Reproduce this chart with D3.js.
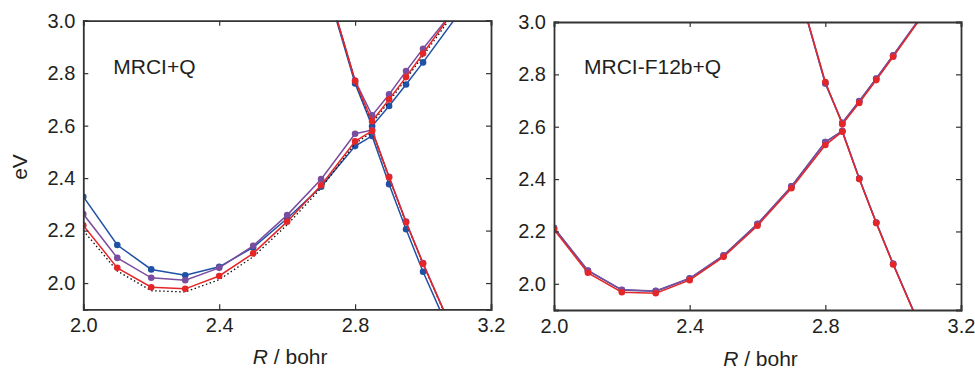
<!DOCTYPE html>
<html>
<head>
<meta charset="utf-8">
<script src="https://cdn.jsdelivr.net/npm/d3@7"></script>
<style>
body { margin: 0; background: #fff; }
text { font-family: "Liberation Sans", Arial, sans-serif; fill: #231f20; }
</style>
</head>
<body>
<script>
// bond lengths (bohr)
var rLower = [2.0, 2.1, 2.2, 2.3, 2.4, 2.5, 2.6, 2.7, 2.8, 2.85, 2.9, 2.95, 3.0, 3.1];
var rUpper = [2.7, 2.8, 2.85, 2.9, 2.95, 3.0, 3.1];

var xTicks = [2.0, 2.4, 2.8, 3.2];
var yTicks = [2.0, 2.2, 2.4, 2.6, 2.8, 3.0];

// MRCI+Q panel
var mrciBlueLow = [2.329, 2.145, 2.052, 2.030, 2.062, 2.136, 2.246, 2.367, 2.522, 2.561, 2.377, 2.205, 2.043, 1.751];
var mrciBlueUp = [3.20, 2.761, 2.598, 2.675, 2.757, 2.841, 3.018];
var mrciPurpleLow = [2.263, 2.096, 2.020, 2.011, 2.058, 2.142, 2.259, 2.396, 2.569, 2.583, 2.405, 2.234, 2.076, 1.781];
var mrciPurpleUp = [3.21, 2.772, 2.639, 2.719, 2.808, 2.893, 3.055];
var mrciRedLow = [2.220, 2.058, 1.984, 1.978, 2.027, 2.113, 2.234, 2.373, 2.540, 2.580, 2.403, 2.232, 2.074, 1.779];
var mrciRedUp = [3.21, 2.770, 2.617, 2.700, 2.785, 2.875, 3.055];
var mrciRefLow = [2.200, 2.046, 1.971, 1.966, 2.013, 2.100, 2.222, 2.362, 2.532, 2.575, 2.400, 2.230, 2.072, 1.777];
var mrciRefUp = [3.21, 2.768, 2.610, 2.692, 2.778, 2.866, 3.045];

// MRCI-F12b+Q panel
var f12BlueLow = [2.213, 2.050, 1.976, 1.972, 2.020, 2.108, 2.228, 2.372, 2.541, 2.583, 2.402, 2.234, 2.076, 1.776];
var f12BlueUp = [3.22, 2.765, 2.614, 2.697, 2.783, 2.872, 3.052];
var f12PurpleLow = [2.214, 2.051, 1.977, 1.973, 2.021, 2.109, 2.229, 2.372, 2.541, 2.584, 2.402, 2.234, 2.076, 1.776];
var f12PurpleUp = [3.22, 2.766, 2.615, 2.698, 2.784, 2.873, 3.053];
var f12RedLow = [2.207, 2.042, 1.968, 1.964, 2.014, 2.103, 2.222, 2.365, 2.530, 2.581, 2.400, 2.232, 2.074, 1.774];
var f12RedUp = [3.22, 2.771, 2.609, 2.691, 2.778, 2.867, 3.049];

var blue = "#1f52a5", purple = "#7a4e9e", red = "#e52629";

var panels = [
    {id: "a", label: "MRCI+Q", left: 83.3, right: 491, top: 20.7, bottom: 309.3,
     series: [
        {low: mrciBlueLow, up: mrciBlueUp, color: blue, dots: true},
        {low: mrciPurpleLow, up: mrciPurpleUp, color: purple, dots: true},
        {low: mrciRefLow, up: mrciRefUp, color: "#111", dots: false, dash: "1.5,2.5"},
        {low: mrciRedLow, up: mrciRedUp, color: red, dots: true}
     ]},
    {id: "b", label: "MRCI-F12b+Q", left: 554, right: 961, top: 22, bottom: 310,
     series: [
        {low: f12BlueLow, up: f12BlueUp, color: blue, dots: true},
        {low: f12PurpleLow, up: f12PurpleUp, color: purple, dots: true},
        {low: f12RedLow, up: f12RedUp, color: red, dots: true}
     ]}
];

var svg = d3.select("body").append("svg")
    .attr("width", 975)
    .attr("height", 370);

panels.forEach(function(p, pi){
    var x = d3.scaleLinear().domain([2.0, 3.2]).range([p.left, p.right]);
    var y = d3.scaleLinear().domain([1.9, 3.0]).range([p.bottom, p.top]);

    svg.append("clipPath").attr("id", "clip" + p.id)
        .append("rect")
        .attr("x", p.left).attr("y", p.top)
        .attr("width", p.right - p.left).attr("height", p.bottom - p.top);

    var g = svg.append("g").attr("clip-path", "url(#clip" + p.id + ")");
    var line = d3.line().x(function(d){return x(d[0]);}).y(function(d){return y(d[1]);});

    p.series.forEach(function(s){
        [[rLower, s.low], [rUpper, s.up]].forEach(function(pair){
            var pts = d3.zip(pair[0], pair[1]);
            g.append("path")
                .attr("d", line(pts))
                .attr("fill", "none")
                .attr("stroke", s.color)
                .attr("stroke-width", s.dots ? 1.5 : 1.3)
                .attr("stroke-dasharray", s.dash || null);
            if (s.dots){
                g.selectAll(null).data(pts).enter().append("circle")
                    .attr("cx", function(d){return x(d[0]);})
                    .attr("cy", function(d){return y(d[1]);})
                    .attr("r", 3.3)
                    .attr("fill", s.color);
            }
        });
    });

    // frame with inward ticks on all sides
    var tl = 5;
    var axes = [
        [d3.axisBottom(x).tickValues(xTicks).tickFormat(d3.format(".1f")).tickSize(-tl), "translate(0," + p.bottom + ")"],
        [d3.axisTop(x).tickValues(xTicks).tickFormat("").tickSize(-tl), "translate(0," + p.top + ")"],
        [d3.axisLeft(y).tickValues(yTicks).tickFormat(d3.format(".1f")).tickSize(-tl), "translate(" + p.left + ",0)"],
        [d3.axisRight(y).tickValues(yTicks).tickFormat("").tickSize(-tl), "translate(" + p.right + ",0)"]
    ];
    axes.forEach(function(a, ai){
        var ag = svg.append("g").attr("transform", a[1]).call(a[0]);
        ag.select(".domain").attr("stroke", "#333").attr("stroke-width", 1.8);
        ag.selectAll(".tick line").attr("stroke", "#333").attr("stroke-width", 1.2);
        ag.selectAll(".tick text")
            .attr("font-size", 20)
            .attr("fill", "#231f20")
            .style("font-family", "Liberation Sans, Arial, sans-serif");
        if (ai == 0) ag.selectAll(".tick text").attr("y", 9);
        if (ai == 2) ag.selectAll(".tick text").attr("x", -8);
    });

    svg.append("text")
        .attr("x", p.left + 30)
        .attr("y", 74)
        .attr("font-size", 21)
        .text(p.label);

    var xl = svg.append("text")
        .attr("x", (p.left + p.right) / 2 + 3)
        .attr("y", 364 + pi * 2)
        .attr("font-size", 21)
        .attr("text-anchor", "middle");
    xl.append("tspan").attr("font-style", "italic").text("R");
    xl.append("tspan").text(" / bohr");
});

svg.append("text")
    .attr("transform", "translate(27,167) rotate(-90)")
    .attr("text-anchor", "middle")
    .attr("font-size", 21)
    .text("eV");
</script>
</body>
</html>
